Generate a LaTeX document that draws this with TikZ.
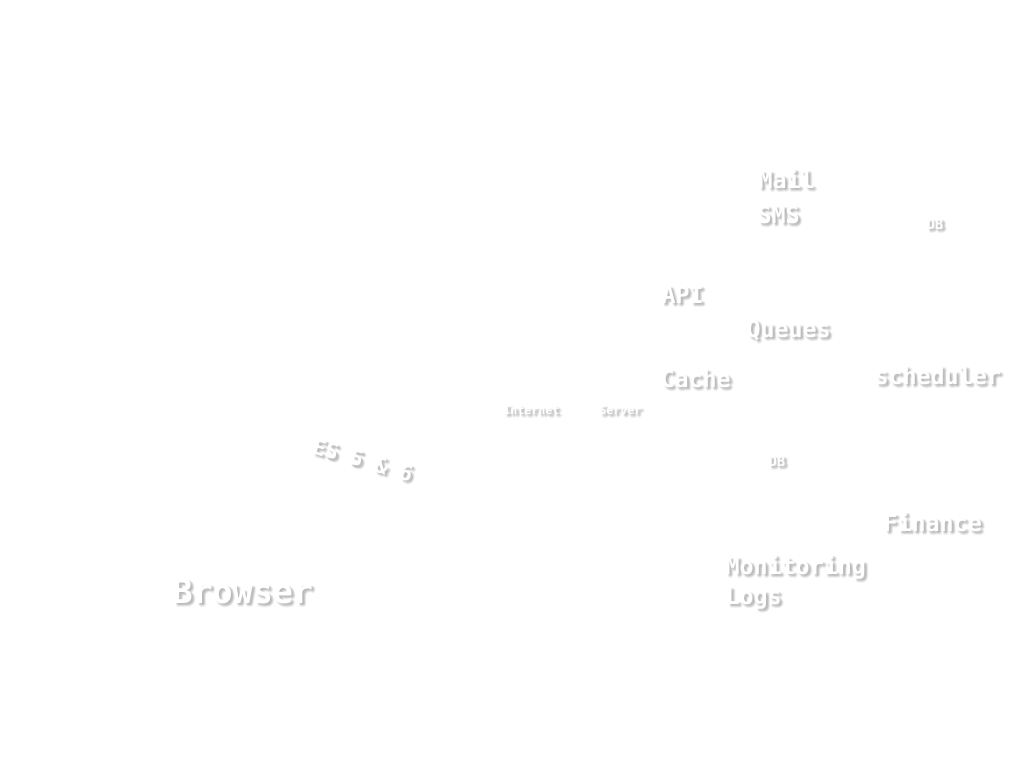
\documentclass[tikz,border=0pt]{standalone}
\usepackage{fontspec}
\setmonofont{DejaVu Sans Mono}
\usetikzlibrary{positioning}

\tikzset{every picture/.style={line width=0.75pt}}
\tikzset{
  lbl/.style={text=white, inner sep=0pt, anchor=base west},
  shd/.style={text=black!40, opacity=0.12, inner sep=0pt, anchor=base west},
}
% white word with a soft grey shadow: name, x, y, size, text
\newcommand{\glowword}[5]{%
  \foreach \dx/\dy in {1.5/1.5,2.5/2.5,3/1.5,1.5/3,2/2,3.5/3.5,2.5/4,4/2.5}
    \path (#2+\dx,#3+\dy) node [shd, font=\fontsize{#4}{#4}\ttfamily\bfseries] {#5};
  \path (#2,#3) node [lbl, font=\fontsize{#4}{#4}\ttfamily\bfseries] (#1) {#5};}

\begin{document}
\begin{tikzpicture}[x=0.75pt,y=0.75pt,yscale=-1,xscale=1]
\path[fill=white] (0,0) rectangle (1025,769);

% top group
\glowword{mail}{758}{188}{17.5}{Mail}
\glowword{sms}{757}{223}{17.5}{SMS}
\glowword{dbtop}{926}{229}{10.5}{DB}
% middle group
\glowword{api}{661}{303}{17.5}{API}
\glowword{queues}{746}{337}{17.5}{Queues}
\glowword{cache}{660}{387}{17.5}{Cache}
\glowword{scheduler}{874}{384}{17.5}{scheduler}
\glowword{internet}{503}{414}{8.7}{Internet}
\glowword{server}{599}{414}{8.7}{Server}
\glowword{dbmid}{768}{466}{10.5}{DB}
% bottom group
\glowword{finance}{883}{531}{17.5}{Finance}
\glowword{monitoring}{725}{574}{17.5}{Monitoring}
\glowword{logs}{725}{604}{17.5}{Logs}
\glowword{browser}{172}{603}{25}{Browser}

% rotated label
\foreach \dx/\dy in {1.5/1.5,2.5/2.5,3/1.5,1.5/3,2/2,3.5/3.5,2.5/4,4/2.5}
  \path (363+\dx,460+\dy) node [shd, anchor=center, rotate=-16, font=\fontsize{16}{16}\ttfamily\bfseries] {ES 5 \& 6};
\path (363,460) node [lbl, anchor=center, rotate=-16, font=\fontsize{16}{16}\ttfamily\bfseries] (es) {ES 5 \& 6};

\end{tikzpicture}
\end{document}
